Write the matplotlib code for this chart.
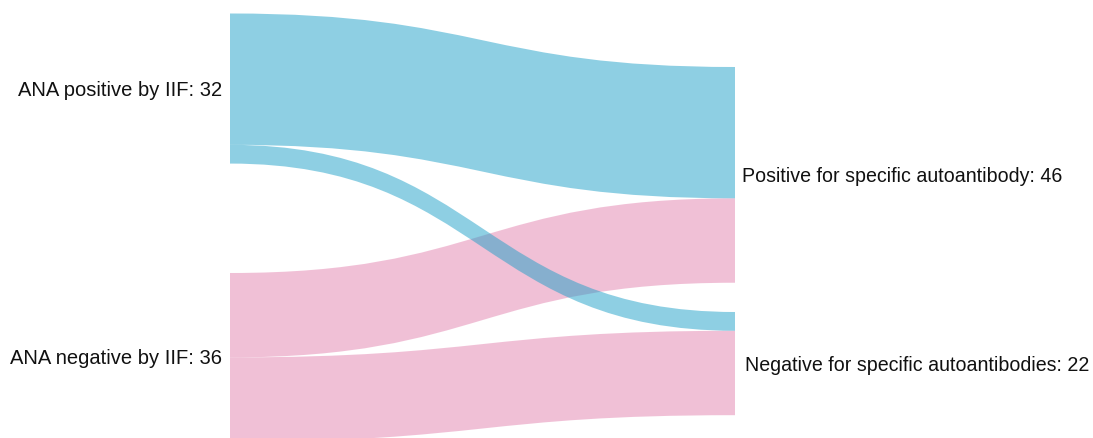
import matplotlib
matplotlib.use("Agg")
import matplotlib.pyplot as plt
from matplotlib.path import Path
from matplotlib.patches import PathPatch

# Nodes and flows (patients)
left_nodes = ["ANA positive by IIF", "ANA negative by IIF"]
right_nodes = ["Positive for specific autoantibody", "Negative for specific autoantibodies"]
# flows[i][j]: from left node i to right node j
flows = [[28, 4],
         [18, 18]]
left_colors = [(30/255, 160/255, 200/255), (227/255, 131/255, 175/255)]

# Layout (pixels)
W, H = 1093, 438
SCALE = 4.69            # pixels per patient
X_LEFT, X_RIGHT = 230, 735
LEFT_TOP = [13.5, 273]
RIGHT_TOP = [67, 312]
RIGHT_LABEL_X = [742, 745]

plt.rcParams['font.family'] = ['Liberation Sans', 'DejaVu Sans']
fig = plt.figure(figsize=(W / 100, H / 100), dpi=100)
ax = fig.add_axes([0, 0, 1, 1])
ax.set_xlim(0, W)
ax.set_ylim(H, 0)
ax.axis("off")

left_tot = [sum(r) for r in flows]
right_tot = [sum(flows[i][j] for i in range(len(flows))) for j in range(len(right_nodes))]

def band(y0a, y0b, y1a, y1b):
    xm = (X_LEFT + X_RIGHT) / 2
    verts = [(X_LEFT, y0a), (xm, y0a), (xm, y1a), (X_RIGHT, y1a),
             (X_RIGHT, y1b),
             (xm, y1b), (xm, y0b), (X_LEFT, y0b),
             (X_LEFT, y0a)]
    codes = [Path.MOVETO, Path.CURVE4, Path.CURVE4, Path.CURVE4,
             Path.LINETO,
             Path.CURVE4, Path.CURVE4, Path.CURVE4,
             Path.CLOSEPOLY]
    return Path(verts, codes)

# offsets within each node
left_off = list(LEFT_TOP)
right_off = list(RIGHT_TOP)
bands = []
for i in range(len(left_nodes)):
    for j in range(len(right_nodes)):
        v = flows[i][j]
        h = v * SCALE
        y0a = left_off[i]
        y1a = right_off[j]
        left_off[i] += h
        right_off[j] += h
        bands.append((i, band(y0a, y0a + h, y1a, y1a + h)))

# pink flows first, blue on top
for i, p in sorted(bands, key=lambda b: -b[0]):
    ax.add_patch(PathPatch(p, facecolor=left_colors[i], edgecolor="none", alpha=0.5))

for i, name in enumerate(left_nodes):
    yc = LEFT_TOP[i] + left_tot[i] * SCALE / 2 + 1.5
    ax.text(222, yc, f"{name}: {left_tot[i]}", ha="right", va="center",
            fontsize=14.5, color="#111111")
for j, name in enumerate(right_nodes):
    yc = RIGHT_TOP[j] + right_tot[j] * SCALE / 2 + 2
    ax.text(RIGHT_LABEL_X[j], yc, f"{name}: {right_tot[j]}", ha="left", va="center",
            fontsize=14.1, color="#111111")

fig.savefig("out.png", dpi=100)
